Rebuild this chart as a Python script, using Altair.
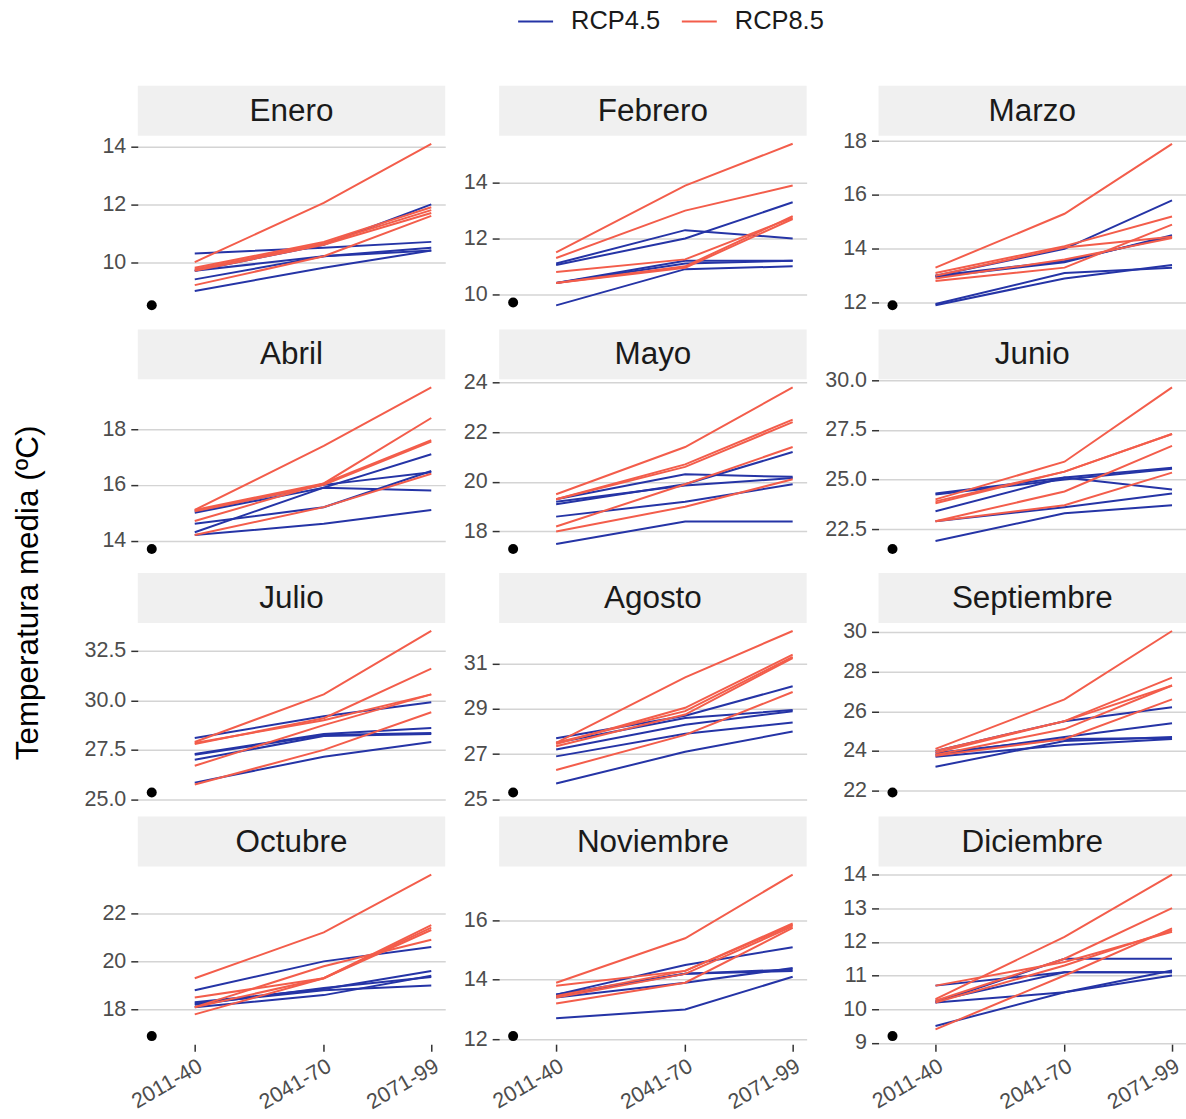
import altair as alt
import pandas as pd

# Monthly mean temperature: historical reference and five model runs per scenario
months = ["Enero", "Febrero", "Marzo", "Abril", "Mayo", "Junio",
          "Julio", "Agosto", "Septiembre", "Octubre", "Noviembre", "Diciembre"]
periods = ["2011-40", "2041-70", "2071-99"]
period_x = [2010, 2040, 2065]   # horizontal position of each future period
hist_x = 2000                  # horizontal position of the reference period
historico = [8.5, 9.7, 11.9, 13.7, 17.3, 21.5, 25.35, 25.3, 21.9, 16.9, 12.1, 9.2]

# RCP4.5: one entry per month, five runs, values for 2011-40 / 2041-70 / 2071-99
rcp45 = [
    [[10.3, 10.5, 10.7], [9.7, 10.6, 12.0], [9.4, 10.2, 10.5], [9.0, 9.8, 10.4], [9.7, 10.2, 10.4]],
    [[11.1, 12.3, 12.0], [11.05, 12.0, 13.3], [10.4, 11.2, 11.2], [9.6, 10.9, 11.0], [10.4, 11.1, 11.2]],
    [[13.0, 14.0, 15.8], [12.95, 13.5, 14.5], [11.95, 13.1, 13.3], [11.9, 12.9, 13.4], [13.0, 13.55, 14.45]],
    [[15.0, 15.9, 15.8], [14.3, 15.9, 17.1], [14.6, 15.2, 16.5], [14.2, 14.6, 15.1], [15.05, 16.0, 16.45]],
    [[19.3, 20.3, 20.2], [19.1, 19.9, 21.2], [18.6, 19.2, 19.9], [17.5, 18.4, 18.4], [19.2, 19.85, 20.15]],
    [[24.3, 25.1, 24.5], [23.4, 25.1, 25.6], [22.9, 23.6, 24.3], [21.9, 23.3, 23.7], [24.25, 25.0, 25.55]],
    [[28.1, 29.2, 29.9], [27.3, 28.3, 28.6], [27.0, 28.2, 28.3], [25.85, 27.15, 27.9], [27.25, 28.25, 28.35]],
    [[27.7, 28.7, 30.0], [27.2, 28.3, 28.9], [26.9, 27.9, 28.4], [25.7, 27.1, 28.0], [27.5, 28.6, 28.95]],
    [[24.0, 25.5, 26.2], [23.8, 24.7, 25.4], [23.7, 24.3, 24.6], [23.2, 24.5, 24.7], [23.9, 24.6, 24.65]],
    [[18.8, 20.0, 20.6], [18.3, 18.85, 19.6], [18.25, 18.8, 19.0], [18.1, 18.6, 19.4], [18.2, 18.9, 19.35]],
    [[13.5, 14.5, 15.1], [13.45, 14.2, 14.3], [13.4, 13.9, 14.4], [12.7, 13.0, 14.1], [13.5, 14.2, 14.35]],
    [[10.7, 11.1, 11.1], [10.2, 11.5, 11.5], [10.2, 10.5, 11.15], [9.5, 10.5, 11.0], [10.25, 11.1, 11.1]],
]

# RCP8.5: same layout
rcp85 = [
    [[10.0, 12.05, 14.1], [9.8, 10.7, 11.9], [9.75, 10.65, 11.8], [9.7, 10.6, 11.7], [9.2, 10.2, 11.6]],
    [[11.5, 13.9, 15.4], [11.3, 13.0, 13.9], [10.8, 11.25, 12.75], [10.4, 10.95, 12.7], [10.4, 11.0, 12.8]],
    [[13.3, 15.3, 17.9], [13.1, 14.1, 15.2], [12.9, 13.6, 14.4], [12.8, 13.3, 14.9], [13.0, 14.05, 14.45]],
    [[15.1, 17.4, 19.5], [14.7, 16.05, 18.4], [15.1, 16.05, 17.6], [14.2, 15.2, 16.4], [15.05, 16.0, 17.55]],
    [[19.5, 21.4, 23.8], [19.3, 20.7, 22.5], [18.2, 19.9, 21.4], [18.0, 19.0, 20.1], [19.3, 20.6, 22.4]],
    [[24.0, 25.9, 29.65], [23.8, 25.4, 27.3], [22.9, 24.4, 26.7], [22.9, 23.7, 25.35], [23.9, 25.4, 27.3]],
    [[27.9, 30.3, 33.5], [27.8, 29.1, 31.6], [26.7, 28.75, 30.3], [25.75, 27.5, 29.4], [27.85, 29.0, 30.3]],
    [[27.5, 30.4, 32.45], [27.45, 29.05, 31.4], [27.35, 28.75, 31.25], [26.3, 27.85, 29.75], [27.5, 28.9, 31.3]],
    [[24.1, 26.6, 30.05], [23.9, 25.5, 27.7], [23.8, 25.1, 27.3], [23.75, 24.6, 26.6], [24.0, 25.5, 27.3]],
    [[19.3, 21.2, 23.6], [18.5, 19.3, 21.5], [18.1, 19.8, 20.9], [17.8, 19.3, 21.3], [18.1, 19.3, 21.4]],
    [[13.9, 15.4, 17.55], [13.8, 14.3, 15.85], [13.4, 14.2, 15.8], [13.2, 13.9, 15.75], [13.45, 14.3, 15.9]],
    [[10.3, 12.15, 14.0], [10.25, 11.5, 13.0], [10.7, 11.4, 12.3], [9.4, 11.0, 12.4], [10.2, 11.3, 12.35]],
]

# y-axis tick values for each month
y_ticks = [
    [10, 12, 14], [10, 12, 14], [12, 14, 16, 18], [14, 16, 18], [18, 20, 22, 24],
    [22.5, 25.0, 27.5, 30.0], [25.0, 27.5, 30.0, 32.5], [25, 27, 29, 31],
    [22, 24, 26, 28, 30], [18, 20, 22], [12, 14, 16], [9, 10, 11, 12, 13, 14],
]
y_formats = ["d", "d", "d", "d", "d", ".1f", ".1f", "d", "d", "d", "d", "d"]

scenarios = ["RCP4.5", "RCP8.5"]
colors = ["#2534a6", "#f35d4b"]

rows = []
for mi, mes in enumerate(months):
    for scen, table in zip(scenarios, (rcp45, rcp85)):
        for k, serie in enumerate(table[mi]):
            for p, x, v in zip(periods, period_x, serie):
                rows.append({"mes": mes, "escenario": scen, "modelo": f"{scen}-{k}",
                             "periodo": p, "x": x, "temp": v})
df = pd.DataFrame(rows)

FONT = "Liberation Sans"
W, H = 308, 178
STRIP = 50
ROW_GAP = 16

x_span = max(period_x) - hist_x
x_domain = [hist_x - 0.05 * x_span, max(period_x) + 0.05 * x_span]
label_expr = ("datum.value == 2010 ? '2011-40' : "
              "datum.value == 2040 ? '2041-70' : '2071-99'")


def panel(i):
    mes = months[i]
    d = df[df["mes"] == mes]
    vals = list(d["temp"]) + [historico[i]]
    lo, hi = min(vals), max(vals)
    pad = 0.05 * (hi - lo)
    y_scale = alt.Scale(domain=[lo - pad, hi + pad], nice=False, zero=False)
    x_scale = alt.Scale(domain=x_domain, nice=False, zero=False)

    if i >= 9:
        x_axis = alt.Axis(values=period_x, labelExpr=label_expr, labelAngle=-30,
                          labelAlign="right", labelBaseline="top", labelPadding=4,
                          labelFontSize=21.5, labelColor="#4d4d4d", labelFont=FONT,
                          ticks=True, tickSize=7, tickColor="#333333", tickWidth=1.5,
                          domain=False, grid=False, title=None)
    else:
        x_axis = None
    y_axis = alt.Axis(values=y_ticks[i], format=y_formats[i], labelFontSize=21.5,
                      labelColor="#4d4d4d", labelFont=FONT, labelPadding=5,
                      ticks=True, tickSize=7, tickColor="#333333", tickWidth=1.5,
                      domain=False, grid=True, gridColor="#d4d4d4", gridWidth=1.5,
                      title=None)

    x_enc = alt.X("x:Q", scale=x_scale, axis=x_axis)
    y_enc = alt.Y("temp:Q", scale=y_scale, axis=y_axis)

    lines = alt.Chart(d).mark_line(strokeWidth=2).encode(
        x=x_enc, y=y_enc,
        color=alt.Color("escenario:N",
                        scale=alt.Scale(domain=scenarios, range=colors),
                        legend=alt.Legend(title=None, orient="none", direction="horizontal",
                                          legendX=380, legendY=-133,
                                          symbolType="stroke", symbolSize=1225,
                                          symbolStrokeWidth=2, labelFontSize=25.5,
                                          labelFont=FONT, labelColor="#1a1a1a",
                                          labelOffset=17, columnPadding=17)),
        detail="modelo:N",
        order=alt.Order("x:Q"),
    )
    ref = alt.Chart(pd.DataFrame({"x": [hist_x], "temp": [historico[i]]})).mark_circle(
        size=100, color="black", opacity=1
    ).encode(x=x_enc, y=y_enc)

    strip_bg = alt.Chart(pd.DataFrame({"mes": [mes]})).mark_rect(color="#f0f0f0").encode(
        x=alt.value(0), x2=alt.value(W), y=alt.value(-STRIP), y2=alt.value(0)
    )
    strip_txt = alt.Chart(pd.DataFrame({"mes": [mes]})).mark_text(
        fontSize=31.5, font=FONT, color="#1a1a1a", baseline="middle", align="center"
    ).encode(text="mes:N", x=alt.value(W / 2), y=alt.value(-STRIP / 2 + 1))

    return alt.layer(strip_bg, strip_txt, lines, ref).properties(width=W, height=H)


# one column of four panels, stacked on their plot areas so rows stay evenly spaced
def column(c):
    return alt.vconcat(
        *[panel(r * 3 + c) for r in range(4)],
        spacing=STRIP + ROW_GAP, bounds="flush",
    ).resolve_scale(x="independent", y="independent", color="shared")


chart = alt.hconcat(
    *[column(c) for c in range(3)], spacing=18,
).resolve_scale(
    x="independent", y="independent", color="shared"
).properties(
    title=alt.TitleParams("Temperatura media (ºC)", orient="left", anchor="middle",
                          fontSize=31.5, font=FONT, fontWeight="normal",
                          color="#000000", offset=40, dx=-35),
    padding={"left": 12, "top": 2, "right": 0, "bottom": 4},
).configure_view(stroke=None)

chart.save("out.html", embed_options={"renderer": "svg", "actions": False})
